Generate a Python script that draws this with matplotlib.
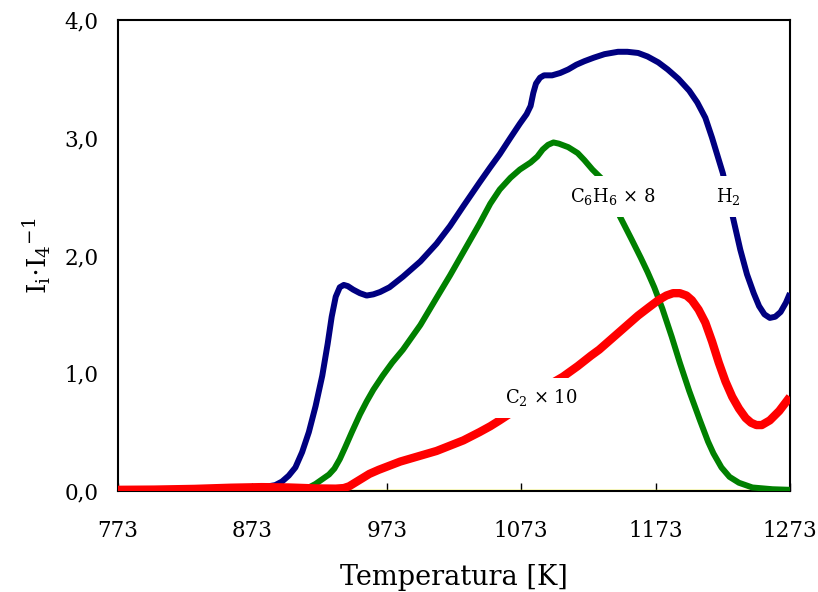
import matplotlib
matplotlib.use("Agg")
import matplotlib.pyplot as plt

# --- data ---
h2_T = [773, 800, 830, 860, 875, 885, 890, 895, 900, 905, 910, 915, 920, 925, 929, 932, 935, 938, 941, 944,
        948, 953, 958, 963, 968, 975, 985, 998, 1010, 1020, 1030, 1042, 1050, 1057, 1065, 1072, 1077, 1080,
        1082, 1084, 1087, 1090, 1096, 1102, 1108, 1114, 1120, 1127, 1135, 1145, 1152, 1160, 1167, 1175,
        1182, 1190, 1198, 1204, 1210, 1215, 1219, 1223, 1227, 1231, 1236, 1241, 1246, 1250, 1254, 1258,
        1262, 1266, 1270, 1273]
h2_y = [0.0, 0.005, 0.01, 0.02, 0.03, 0.04, 0.05, 0.08, 0.13, 0.2, 0.33, 0.5, 0.72, 0.98, 1.25, 1.48, 1.65, 1.73, 1.75, 1.74,
        1.71, 1.68, 1.66, 1.67, 1.69, 1.73, 1.82, 1.95, 2.1, 2.25, 2.42, 2.62, 2.75, 2.86, 3.0, 3.12, 3.2, 3.27,
        3.38, 3.46, 3.51, 3.53, 3.53, 3.55, 3.58, 3.62, 3.65, 3.68, 3.71, 3.73, 3.73, 3.72, 3.69, 3.64,
        3.58, 3.50, 3.40, 3.30, 3.17, 3.0, 2.85, 2.7, 2.5, 2.30, 2.05, 1.84, 1.68, 1.57, 1.5, 1.47,
        1.48, 1.52, 1.6, 1.68]

c6h6_T = [773, 900, 908, 915, 920, 925, 930, 934, 938, 942, 947, 953, 958, 963, 970, 977, 985, 998, 1010,
          1020, 1030, 1042, 1050, 1057, 1065, 1072, 1080, 1085, 1089, 1093, 1097, 1101, 1108, 1115, 1120,
          1126, 1134, 1140, 1146.5, 1155, 1162, 1167, 1172, 1178, 1185, 1191, 1198, 1206, 1212, 1216, 1222,
          1228, 1235, 1245, 1260, 1273]
c6h6_y = [0.0, 0.0, 0.005, 0.03, 0.06, 0.1, 0.14, 0.19, 0.27, 0.37, 0.5, 0.65, 0.76, 0.86, 0.98, 1.09, 1.2, 1.41, 1.64,
          1.83, 2.03, 2.27, 2.44, 2.56, 2.66, 2.73, 2.79, 2.84, 2.9, 2.94, 2.96, 2.95, 2.92, 2.87, 2.81,
          2.73, 2.64, 2.5, 2.33, 2.14, 1.98, 1.86, 1.73, 1.55, 1.31, 1.09, 0.85, 0.6, 0.42, 0.32, 0.2,
          0.12, 0.07, 0.03, 0.015, 0.01]

c2_T = [773, 800, 830, 857, 880, 900, 920, 935, 941, 945, 950, 955, 960, 967, 975, 983, 995, 1010, 1020,
        1030, 1042, 1050, 1057, 1065, 1072, 1080, 1087, 1095, 1104, 1115, 1125, 1131, 1144, 1152, 1160,
        1168, 1175, 1181, 1186, 1191, 1196, 1200, 1205, 1210, 1215, 1220, 1225, 1230, 1235, 1240, 1244,
        1248, 1252, 1258, 1265, 1273]
c2_y = [0.01, 0.012, 0.018, 0.028, 0.033, 0.03, 0.022, 0.02, 0.025, 0.04, 0.075, 0.11, 0.145, 0.18, 0.215, 0.25, 0.29, 0.34, 0.385,
        0.43, 0.5, 0.55, 0.6, 0.66, 0.72, 0.79, 0.85, 0.91, 0.97, 1.06, 1.15, 1.2, 1.33, 1.41, 1.49,
        1.56, 1.62, 1.66, 1.68, 1.68, 1.66, 1.62, 1.54, 1.43, 1.27, 1.09, 0.93, 0.8, 0.7, 0.62, 0.58,
        0.56, 0.56, 0.6, 0.68, 0.8]

other_T = [773, 1273]
other_y = [0.0, 0.0]

x_ticks = [773, 873, 973, 1073, 1173, 1273]
y_ticks = [0.0, 1.0, 2.0, 3.0, 4.0]
y_ticklabels = ["0,0", "1,0", "2,0", "3,0", "4,0"]

plt.rcParams['font.family'] = ['DejaVu Serif']
plt.rcParams['mathtext.fontset'] = 'dejavuserif'

fig = plt.figure(figsize=(8.18, 5.92), dpi=100)
ax = fig.add_axes([118/818, 1 - 491/592, 672/818, 471/592])

style = dict(solid_joinstyle='round', solid_capstyle='butt')
ax.plot(other_T, other_y, color='#ffff00', lw=2.5, zorder=2, **style)
ax.plot(h2_T, h2_y, color='#000080', lw=4.3, zorder=3, **style)
ax.plot(c6h6_T, c6h6_y, color='#008000', lw=4.3, zorder=4, **style)
ax.plot(c2_T, c2_y, color='#ff0000', lw=6.0, zorder=5, **style)

box = dict(facecolor='white', edgecolor='none', pad=7)
ax.text(1141, 2.5, r'C$_6$H$_6$ $\times$ 8', ha='center', va='center', fontsize=13, bbox=box, zorder=6)
ax.text(1227, 2.5, r'H$_2$', ha='center', va='center', fontsize=13, bbox=box, zorder=6)
ax.text(1088, 0.79, r'C$_2$ $\times$ 10', ha='center', va='center', fontsize=13, bbox=box, zorder=6)

ax.set_xlim(773, 1273)
ax.set_ylim(0, 4)
ax.set_xticks(x_ticks)
ax.set_xticklabels([str(t) for t in x_ticks])
ax.set_yticks(y_ticks)
ax.set_yticklabels(y_ticklabels)
ax.tick_params(axis='x', direction='in', length=6, labelsize=15.5, pad=21, width=1)
ax.tick_params(axis='y', length=0, labelsize=15.5, pad=14)
for s in ax.spines.values():
    s.set_linewidth(1.5)
    s.set_color('black')

ax.set_xlabel('Temperatura [K]', fontsize=19.5, labelpad=16)
ax.set_ylabel(r'I$_\mathrm{i}$$\cdot$I$_4$$^{\mathrm{-1}}$', fontsize=19, labelpad=8)

fig.savefig('out.png', dpi=100)
